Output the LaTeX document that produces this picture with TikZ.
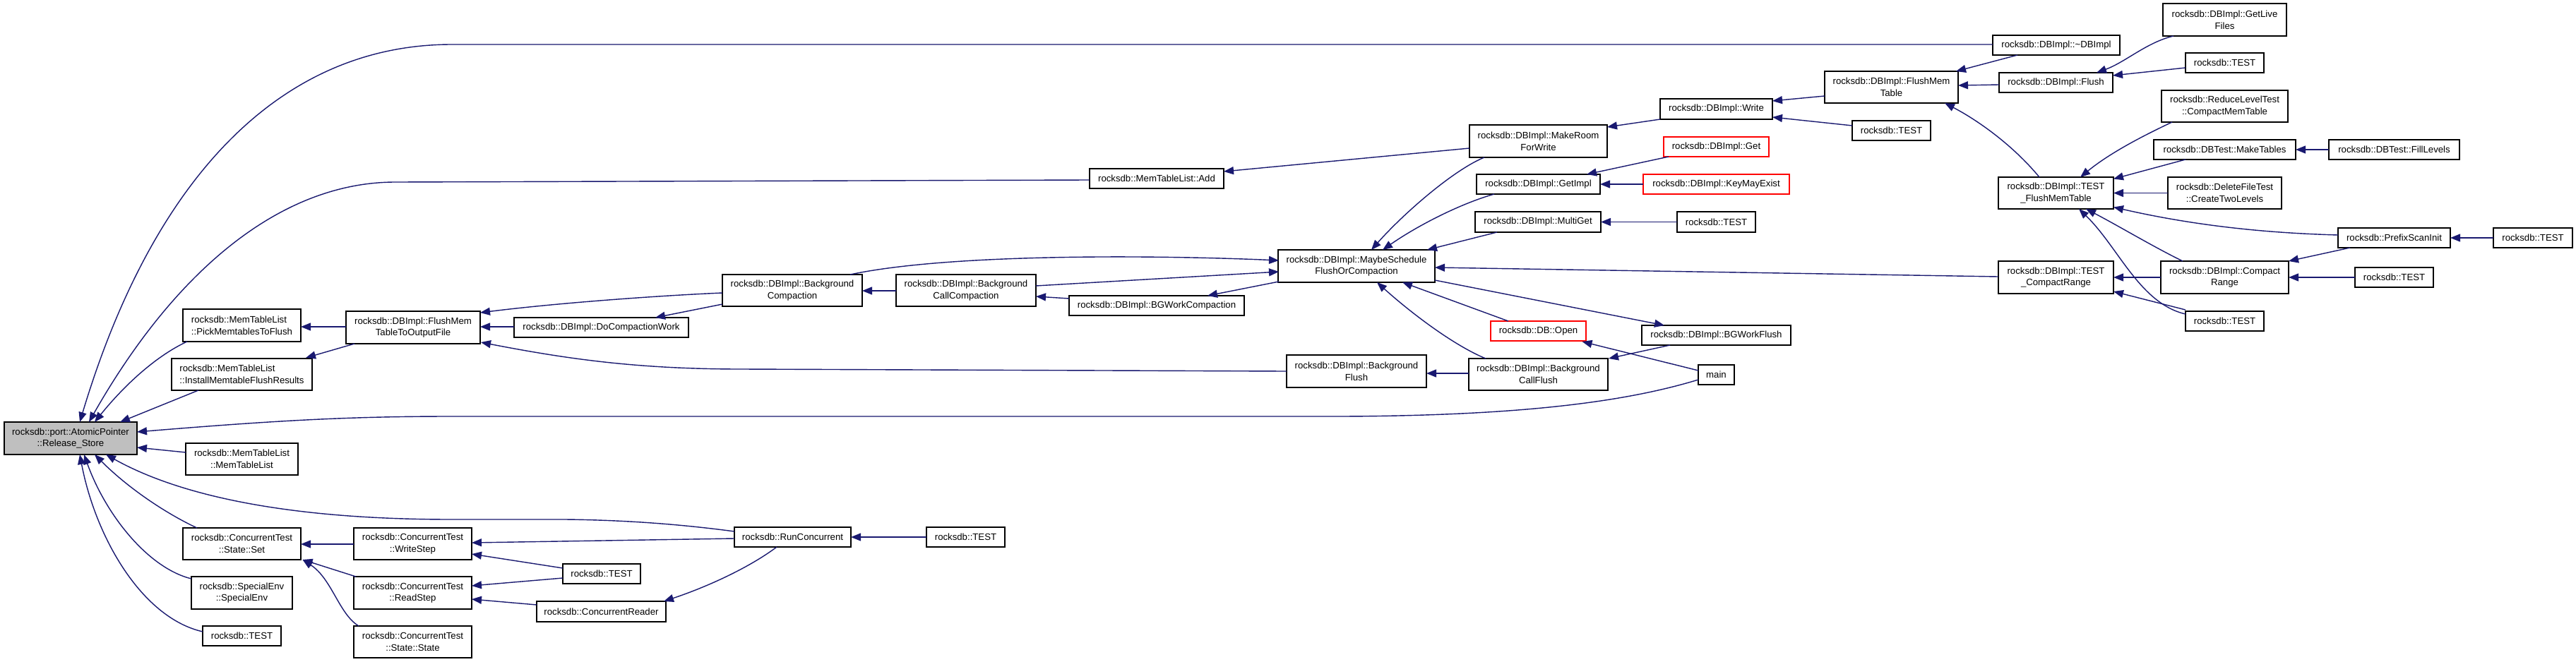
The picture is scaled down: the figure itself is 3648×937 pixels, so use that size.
\documentclass[tikz,border=0pt]{standalone}
\usepackage{fontspec}
\setmainfont{Liberation Sans}
\usetikzlibrary{arrows.meta}
\definecolor{edgecol}{HTML}{191970}
\definecolor{maingray}{HTML}{BFBFBF}
\definecolor{redbox}{HTML}{FF0000}
\begin{document}
\begin{tikzpicture}[x=1pt,y=-1pt,
 box/.style={draw=black, line width=1.5pt, fill=white, inner sep=0pt, align=center, font=\fontsize{13.2}{16.7}\selectfont},
 edge/.style={draw=edgecol, line width=1.4pt, {Triangle[length=14pt,width=11pt]}-}]
\path[use as bounding box, fill=white] (0,0) rectangle (3648,937);
% nodes
\node[box,fill=maingray,minimum width=188pt,minimum height=46pt] (rs) at (100,621) {rocksdb::port::AtomicPointer\\::Release\_Store};
\node[box,align=left,minimum width=167pt,minimum height=46pt] (pick) at (342.5,461) {rocksdb::MemTableList\\::PickMemtablesToFlush};
\node[box,align=left,minimum width=199pt,minimum height=45pt] (install) at (342.5,530.5) {rocksdb::MemTableList\\::InstallMemtableFlushResults};
\node[box,minimum width=159pt,minimum height=45pt] (mtl) at (342.5,650.5) {rocksdb::MemTableList\\::MemTableList};
\node[box,minimum width=167pt,minimum height=45pt] (set) at (342.5,770.5) {rocksdb::ConcurrentTest\\::State::Set};
\node[box,minimum width=143pt,minimum height=46pt] (senv) at (342.5,840) {rocksdb::SpecialEnv\\::SpecialEnv};
\node[box,minimum width=111pt,minimum height=28pt] (testA) at (342.5,901) {rocksdb::TEST};
\node[box,minimum width=190pt,minimum height=46pt] (flushout) at (585,464) {rocksdb::DBImpl::FlushMem\\TableToOutputFile};
\node[box,minimum width=167pt,minimum height=45pt] (wstep) at (584.5,770.5) {rocksdb::ConcurrentTest\\::WriteStep};
\node[box,minimum width=167pt,minimum height=46pt] (rstep) at (584.5,840) {rocksdb::ConcurrentTest\\::ReadStep};
\node[box,minimum width=167pt,minimum height=45pt] (sstate) at (584.5,909.5) {rocksdb::ConcurrentTest\\::State::State};
\node[box,minimum width=247pt,minimum height=28pt] (docw) at (851.5,464) {rocksdb::DBImpl::DoCompactionWork};
\node[box,minimum width=110pt,minimum height=28pt] (testB) at (852,813) {rocksdb::TEST};
\node[box,minimum width=183pt,minimum height=29pt] (reader) at (851.5,866.5) {rocksdb::ConcurrentReader};
\node[box,minimum width=198pt,minimum height=45pt] (bgc) at (1122,411.5) {rocksdb::DBImpl::Background\\Compaction};
\node[box,minimum width=165pt,minimum height=28pt] (runc) at (1122.5,761) {rocksdb::RunConcurrent};
\node[box,minimum width=198pt,minimum height=45pt] (bgcc) at (1368,411.5) {rocksdb::DBImpl::Background\\CallCompaction};
\node[box,minimum width=111pt,minimum height=28pt] (testC) at (1367.5,761) {rocksdb::TEST};
\node[box,minimum width=190pt,minimum height=28pt] (add) at (1638,253) {rocksdb::MemTableList::Add};
\node[box,minimum width=248pt,minimum height=28pt] (bgwc) at (1638,433) {rocksdb::DBImpl::BGWorkCompaction};
\node[box,minimum width=222pt,minimum height=46pt] (maybe) at (1921,377) {rocksdb::DBImpl::MaybeSchedule\\FlushOrCompaction};
\node[box,minimum width=198pt,minimum height=46pt] (bgf) at (1921,526) {rocksdb::DBImpl::Background\\Flush};
\node[box,minimum width=195pt,minimum height=46pt] (mroom) at (2178.5,200) {rocksdb::DBImpl::MakeRoom\\ForWrite};
\node[box,minimum width=175pt,minimum height=28pt] (getimpl) at (2178.5,261) {rocksdb::DBImpl::GetImpl};
\node[box,minimum width=178pt,minimum height=29pt] (mget) at (2178,314.5) {rocksdb::DBImpl::MultiGet};
\node[box,draw=redbox,minimum width=135pt,minimum height=28pt] (open) at (2178.5,469) {rocksdb::DB::Open};
\node[box,minimum width=197pt,minimum height=45pt] (bgcf) at (2178.5,530.5) {rocksdb::DBImpl::Background\\CallFlush};
\node[box,minimum width=159pt,minimum height=29pt] (write) at (2430.5,154.5) {rocksdb::DBImpl::Write};
\node[box,draw=redbox,minimum width=149pt,minimum height=28pt] (get) at (2430.5,208) {rocksdb::DBImpl::Get};
\node[box,draw=redbox,minimum width=207pt,minimum height=28pt] (kme) at (2430.5,261) {rocksdb::DBImpl::KeyMayExist};
\node[box,minimum width=111pt,minimum height=29pt] (testD) at (2430.5,314.5) {rocksdb::TEST};
\node[box,minimum width=211pt,minimum height=28pt] (bgwf) at (2430.5,475) {rocksdb::DBImpl::BGWorkFlush};
\node[box,minimum width=51pt,minimum height=28pt] (mainfn) at (2430.5,531) {main};
\node[box,minimum width=189pt,minimum height=45pt] (fmt) at (2678.5,123.5) {rocksdb::DBImpl::FlushMem\\Table};
\node[box,minimum width=111pt,minimum height=28pt] (testE) at (2678.5,185) {rocksdb::TEST};
\node[box,minimum width=180pt,minimum height=28pt] (dtor) at (2912,64) {rocksdb::DBImpl::\textasciitilde DBImpl};
\node[box,minimum width=161pt,minimum height=28pt] (flush) at (2911.5,117) {rocksdb::DBImpl::Flush};
\node[box,minimum width=163pt,minimum height=45pt] (tfmt) at (2911.5,273.5) {rocksdb::DBImpl::TEST\\\_FlushMemTable};
\node[box,minimum width=163pt,minimum height=46pt] (tcr) at (2911.5,393) {rocksdb::DBImpl::TEST\\\_CompactRange};
\node[box,minimum width=175pt,minimum height=46pt] (live) at (3150.5,28) {rocksdb::DBImpl::GetLive\\Files};
\node[box,minimum width=111pt,minimum height=28pt] (testF) at (3150.5,89) {rocksdb::TEST};
\node[box,minimum width=179pt,minimum height=45pt] (reduce) at (3150.5,150.5) {rocksdb::ReduceLevelTest\\::CompactMemTable};
\node[box,minimum width=201pt,minimum height=28pt] (mtab) at (3150.5,212) {rocksdb::DBTest::MakeTables};
\node[box,minimum width=161pt,minimum height=45pt] (ctl) at (3150.5,273.5) {rocksdb::DeleteFileTest\\::CreateTwoLevels};
\node[box,minimum width=181pt,minimum height=46pt] (crange) at (3150.5,393) {rocksdb::DBImpl::Compact\\Range};
\node[box,minimum width=111pt,minimum height=28pt] (testI) at (3150.5,455) {rocksdb::TEST};
\node[box,minimum width=185pt,minimum height=28pt] (flv) at (3390.5,212) {rocksdb::DBTest::FillLevels};
\node[box,minimum width=159pt,minimum height=28pt] (prefix) at (3390.5,337) {rocksdb::PrefixScanInit};
\node[box,minimum width=111pt,minimum height=28pt] (testH) at (3390.5,393) {rocksdb::TEST};
\node[box,minimum width=112pt,minimum height=28pt] (testG) at (3587,337) {rocksdb::TEST};
% edges (arrow at callee)
\draw[edge] ([shift={(13,-23)}]rs.center) .. controls (218,248) and (400,63) .. (640,63) -- ([shift={(-90,-1)}]dtor.center);
\draw[edge] ([shift={(26,-23)}]rs.center) .. controls (250,380) and (400,258) .. (560,258) -- ([shift={(-95,2)}]add.center);
\draw[edge] ([shift={(34,-23)}]rs.center) .. controls (185,535) and (230,500) .. ([shift={(-77.5,23)}]pick.center);
\draw[edge] ([shift={(70,-23)}]rs.center) -- ([shift={(-61.5,22.5)}]install.center);
\draw[edge] ([shift={(94,-9)}]rs.center) .. controls (400,595) and (500,590) .. (640,590) -- (1900,590) .. controls (2150,589) and (2300,570) .. ([shift={(-25.5,7)}]mainfn.center);
\draw[edge] ([shift={(94,13)}]rs.center) -- ([shift={(-79.5,-9.5)}]mtl.center);
\draw[edge] ([shift={(50,23)}]rs.center) .. controls (250,700) and (400,736) .. (640,736) -- (800,736) .. controls (900,737) and (980,745) .. ([shift={(-82.5,-8)}]runc.center);
\draw[edge] ([shift={(34,23)}]rs.center) .. controls (185,695) and (240,730) .. ([shift={(-63.5,-22.5)}]set.center);
\draw[edge] ([shift={(19,23)}]rs.center) .. controls (150,730) and (210,805) .. ([shift={(-71.5,-20)}]senv.center);
\draw[edge] ([shift={(13,23)}]rs.center) .. controls (135,760) and (200,875) .. ([shift={(-55.5,-6)}]testA.center);
\draw[edge] ([shift={(83.5,2)}]pick.center) -- ([shift={(-95,-1)}]flushout.center);
\draw[edge] ([shift={(90.5,-23.5)}]install.center) -- ([shift={(-83,23)}]flushout.center);
\draw[edge] ([shift={(95,-21)}]flushout.center) .. controls (800,428) and (950,418) .. ([shift={(-99,3.5)}]bgc.center);
\draw[edge] ([shift={(95,-1)}]flushout.center) -- ([shift={(-123.5,-1)}]docw.center);
\draw[edge] ([shift={(96,21)}]flushout.center) .. controls (800,508) and (900,523) .. (1050,523) -- ([shift={(-99,0)}]bgf.center);
\draw[edge] ([shift={(76.5,-14)}]docw.center) -- ([shift={(-99,19.5)}]bgc.center);
\draw[edge] ([shift={(99,0.5)}]bgc.center) -- ([shift={(-99,0.5)}]bgcc.center);
\draw[edge] ([shift={(-110,-8)}]maybe.center) .. controls (1650,362) and (1350,358) .. ([shift={(82,-22.5)}]bgc.center);
\draw[edge] ([shift={(-110,8)}]maybe.center) -- ([shift={(99,-6.5)}]bgcc.center);
\draw[edge] ([shift={(99,8.5)}]bgcc.center) -- ([shift={(-124,-10)}]bgwc.center);
\draw[edge] ([shift={(72,-14)}]bgwc.center) -- ([shift={(-110,22)}]maybe.center);
\draw[edge] ([shift={(95,-10)}]add.center) -- ([shift={(-97.5,10)}]mroom.center);
\draw[edge] ([shift={(21,-23)}]maybe.center) .. controls (1990,300) and (2060,240) .. ([shift={(-76.5,23)}]mroom.center);
\draw[edge] ([shift={(37,-23)}]maybe.center) .. controls (2010,318) and (2070,288) .. ([shift={(-62.5,14)}]getimpl.center);
\draw[edge] ([shift={(100,-23)}]maybe.center) -- ([shift={(-58,14.5)}]mget.center);
\draw[edge] ([shift={(111,2)}]maybe.center) -- ([shift={(-81.5,-1)}]tcr.center);
\draw[edge] ([shift={(-73.5,-14)}]bgwf.center) -- ([shift={(111,20)}]maybe.center);
\draw[edge] ([shift={(65,23)}]maybe.center) -- ([shift={(-42.5,-14)}]open.center);
\draw[edge] ([shift={(29,23)}]maybe.center) .. controls (2000,445) and (2060,490) .. ([shift={(-74.5,-22.5)}]bgcf.center);
\draw[edge] ([shift={(99,3)}]bgf.center) -- ([shift={(-98.5,-1.5)}]bgcf.center);
\draw[edge] ([shift={(99.5,-22.5)}]bgcf.center) -- ([shift={(-65.5,14)}]bgwf.center);
\draw[edge] ([shift={(62,15)}]open.center) -- ([shift={(-25.5,-6)}]mainfn.center);
\draw[edge] ([shift={(97.5,-20)}]mroom.center) -- ([shift={(-79.5,14.5)}]write.center);
\draw[edge] ([shift={(68.5,-14)}]getimpl.center) -- ([shift={(-67.5,14)}]get.center);
\draw[edge] ([shift={(87.5,0)}]getimpl.center) -- ([shift={(-103.5,0)}]kme.center);
\draw[edge] ([shift={(89,0)}]mget.center) -- ([shift={(-55.5,0)}]testD.center);
\draw[edge] ([shift={(79.5,-11.5)}]write.center) -- ([shift={(-94.5,12.5)}]fmt.center);
\draw[edge] ([shift={(79.5,11.5)}]write.center) -- ([shift={(-55.5,-7)}]testE.center);
\draw[edge] ([shift={(91.5,-22.5)}]fmt.center) -- ([shift={(-55,14)}]dtor.center);
\draw[edge] ([shift={(94.5,-2.5)}]fmt.center) -- ([shift={(-80.5,3)}]flush.center);
\draw[edge] ([shift={(75.5,22.5)}]fmt.center) .. controls (2800,170) and (2850,205) .. ([shift={(-23.5,-22.5)}]tfmt.center);
\draw[edge] ([shift={(57.5,-14)}]flush.center) .. controls (3010,88) and (3040,60) .. ([shift={(-72.5,23)}]live.center);
\draw[edge] ([shift={(80.5,-10)}]flush.center) -- ([shift={(-55.5,7)}]testF.center);
\draw[edge] ([shift={(34.5,-22.5)}]tfmt.center) .. controls (2990,215) and (3040,190) .. ([shift={(-74.5,22.5)}]reduce.center);
\draw[edge] ([shift={(81.5,-20)}]tfmt.center) -- ([shift={(-55.5,14)}]mtab.center);
\draw[edge] ([shift={(81.5,0)}]tfmt.center) -- ([shift={(-80.5,0)}]ctl.center);
\draw[edge] ([shift={(81.5,20)}]tfmt.center) .. controls (3100,318) and (3200,330) .. ([shift={(-79.5,-4)}]prefix.center);
\draw[edge] ([shift={(42.5,22.5)}]tfmt.center) .. controls (3000,320) and (3050,350) .. ([shift={(-59.5,-23)}]crange.center);
\draw[edge] ([shift={(32.5,22.5)}]tfmt.center) .. controls (3000,350) and (3030,430) .. ([shift={(-55.5,-10)}]testI.center);
\draw[edge] ([shift={(81.5,0)}]tcr.center) -- ([shift={(-90.5,0)}]crange.center);
\draw[edge] ([shift={(81.5,20)}]tcr.center) -- ([shift={(-55.5,-16)}]testI.center);
\draw[edge] ([shift={(100.5,0)}]mtab.center) -- ([shift={(-92.5,0)}]flv.center);
\draw[edge] ([shift={(90.5,-23)}]crange.center) -- ([shift={(-62.5,14)}]prefix.center);
\draw[edge] ([shift={(90.5,0)}]crange.center) -- ([shift={(-55.5,0)}]testH.center);
\draw[edge] ([shift={(79.5,0)}]prefix.center) -- ([shift={(-56,0)}]testG.center);
\draw[edge] ([shift={(82.5,0)}]runc.center) -- ([shift={(-55.5,0)}]testC.center);
\draw[edge] ([shift={(83.5,-1.5)}]wstep.center) -- ([shift={(-82.5,2)}]runc.center);
\draw[edge] ([shift={(83.5,14.5)}]wstep.center) -- ([shift={(-55,-8)}]testB.center);
\draw[edge] ([shift={(83.5,-10)}]rstep.center) -- ([shift={(-55,6)}]testB.center);
\draw[edge] ([shift={(83.5,9)}]rstep.center) -- ([shift={(-91.5,-9.5)}]reader.center);
\draw[edge] ([shift={(88.5,-14.5)}]reader.center) .. controls (1000,832) and (1060,805) .. ([shift={(-22.5,14)}]runc.center);
\draw[edge] ([shift={(83.5,0.5)}]set.center) -- ([shift={(-83.5,0.5)}]wstep.center);
\draw[edge] ([shift={(86,22.5)}]set.center) -- ([shift={(-80.5,-23)}]rstep.center);
\draw[edge] ([shift={(86,22.5)}]set.center) .. controls (470,820) and (480,870) .. ([shift={(-76.5,-22.5)}]sstate.center);
\end{tikzpicture}
\end{document}
